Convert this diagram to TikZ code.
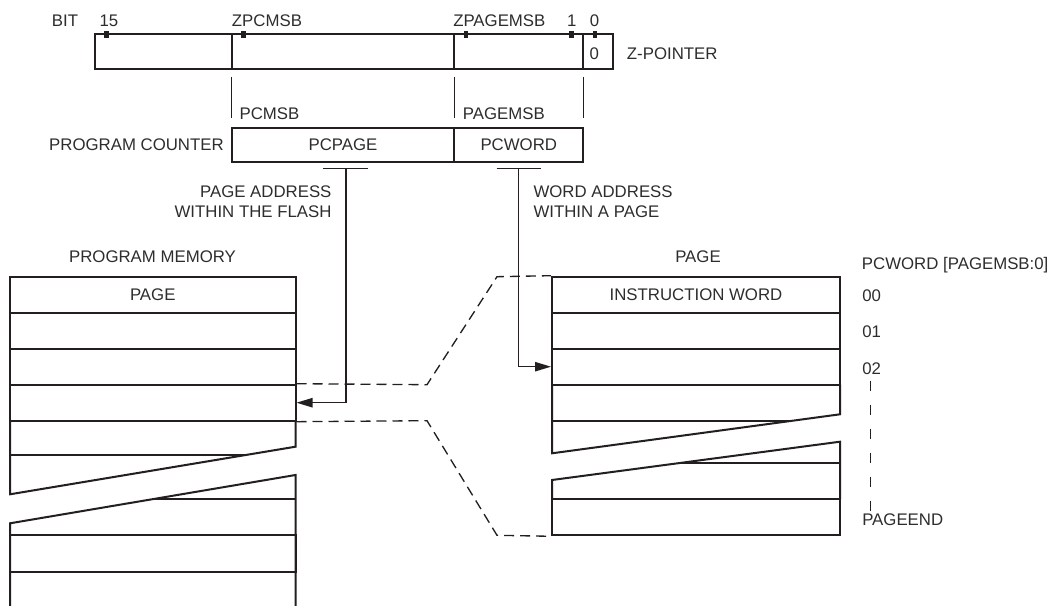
\documentclass[tikz,border=0pt]{standalone}
\usepackage{fontspec}
\setmainfont{Liberation Sans}
\usetikzlibrary{fit,arrows.meta}
\definecolor{ink}{RGB}{35,31,32}
\definecolor{txt}{RGB}{45,45,45}
\newcommand\diagfont{\fontsize{12.6}{14}\selectfont}
\begin{document}
\begin{tikzpicture}[x=0.75pt,y=-0.75pt,
  box/.style={draw=ink,line width=1.5pt,inner sep=0pt},
  lbl/.style={font=\diagfont,text=txt,inner sep=0pt,text height=9pt,text depth=0pt},
  wire/.style={draw=ink,line width=1pt},
  edge/.style={draw=ink,line width=1.5pt,line join=miter},
  dashwire/.style={draw=ink,line width=1pt,dash pattern=on 7.5pt off 4.5pt},
  vdash/.style={draw=ink,line width=1pt,dash pattern=on 8pt off 10pt},
  arr/.style={-{Triangle[length=12pt,width=7pt]}},
  tick/.style={fill=ink}]
\useasboundingbox (0,0) rectangle (1051,606);
\clip (0,0) rectangle (1051,606);

% ---------- Z-pointer ----------
\node[box,fit={(95,34.3) (231.7,69)}] (z1) {};
\node[box,fit={(231.7,34.3) (454.3,69)}] (z2) {};
\node[box,fit={(454.3,34.3) (583.3,69)}] (z3) {};
\node[box,fit={(583.3,34.3) (612.7,69)}] (z4) {};
\foreach \tx in {106.7,243.3,466,571.7,595}
  \fill[tick] (\tx-2.4,31.5) rectangle (\tx+2.4,38.5);

\node[lbl] (bit) at (65,20.7) {BIT};
\node[lbl] (b15) at (109,20.7) {15};
\node[lbl,anchor=west] (zpcmsb) at (231.7,20.7) {ZPCMSB};
\node[lbl,anchor=west] (zpagemsb) at (453,20.7) {ZPAGEMSB};
\node[lbl] (b1) at (571.7,20.7) {1};
\node[lbl] (b0) at (594.5,20.7) {0};
\node[lbl] (zero) at (594.3,53.3) {0};
\node[lbl,anchor=west] (zptr) at (626.7,53.3) {Z-POINTER};

% mapping lines
\coordinate (m1a) at (231.7,77); \coordinate (m1b) at (231.7,118);
\coordinate (m2a) at (454.3,77); \coordinate (m2b) at (454.3,118);
\coordinate (m3a) at (583.3,77); \coordinate (m3b) at (583.3,118);
\draw[wire] (m1a) -- (m1b);
\draw[wire] (m2a) -- (m2b);
\draw[wire] (m3a) -- (m3b);
\node[lbl,anchor=west] (pcmsb) at (239.3,113.3) {PCMSB};
\node[lbl,anchor=west] (pagemsb) at (462.7,113.3) {PAGEMSB};

% ---------- Program counter ----------
\node[box,fit={(231.7,127.7) (454.3,162.3)},label={[lbl]center:PCPAGE}] (pcpage) {};
\node[box,fit={(454.3,127.7) (583.3,162.3)},label={[lbl]center:PCWORD}] (pcword) {};
\node[lbl,anchor=east] (pclbl) at (224,144.3) {PROGRAM COUNTER};

\coordinate (bar1l) at (323.3,168.3); \coordinate (bar1r) at (368.3,168.3);
\coordinate (bar1) at (346,168.3);
\coordinate (bar2l) at (496.7,168.3); \coordinate (bar2r) at (540.7,168.3);
\coordinate (bar2) at (518.7,168.3);
\draw[wire] (bar1l) -- (bar1r);
\draw[wire] (bar2l) -- (bar2r);

\node[lbl,anchor=east] (pa1) at (331.7,191.7) {PAGE ADDRESS};
\node[lbl,anchor=east] (pa2) at (331.7,212) {WITHIN THE FLASH};
\node[lbl,anchor=west] (wa1) at (533.3,191.7) {WORD ADDRESS};
\node[lbl,anchor=west] (wa2) at (533.3,212) {WITHIN A PAGE};

% ---------- Program memory ----------
\node[lbl] (pmlbl) at (152.5,256.7) {PROGRAM MEMORY};
\node[box,fit={(10,276.7) (295.5,312.7)},label={[lbl]center:PAGE}] (L1) {};
\node[box,fit={(10,312.7) (295.5,348.7)}] (L2) {};
\node[box,fit={(10,348.7) (295.5,384.7)}] (L3) {};
\node[box,fit={(10,384.7) (295.5,420.7)}] (L4) {};
\draw[edge] (10,420.7) -- (10,494.3) -- (295.5,446.7) -- (295.5,420.7);
\draw[edge] (10,455) -- (246,455);
\draw[edge] (295.5,610) -- (295.5,475) -- (10,523.3) -- (10,610);
\draw[edge] (152,499.3) -- (295.5,499.3);
\node[box,fit={(10,535.3) (295.5,571.5)}] (L5) {};

% ---------- Page ----------
\node[lbl] (pglbl) at (698,257) {PAGE};
\node[lbl,anchor=west] (pcwlbl) at (861.7,264) {PCWORD [PAGEMSB:0]};
\node[box,fit={(552,276.7) (840,312.7)},label={[lbl]center:INSTRUCTION WORD}] (R1) {};
\node[box,fit={(552,312.7) (840,348.7)}] (R2) {};
\node[box,fit={(552,348.7) (840,384.7)}] (R3) {};
\draw[edge] (552,384.7) -- (552,453.3) -- (840,414.3) -- (840,384.7);
\draw[edge] (552,420.5) -- (791,420.5);
\draw[edge] (552,499.3) -- (552,480) -- (840,441.7) -- (840,499.3);
\draw[edge] (678,463.3) -- (840,463.3);
\node[box,fit={(552,499.3) (840,535.3)}] (R4) {};

\node[lbl,anchor=west] (w00) at (862,296) {00};
\node[lbl,anchor=west] (w01) at (862,332) {01};
\node[lbl,anchor=west] (w02) at (862,368) {02};
\node[lbl,anchor=west] (wend) at (862,519) {PAGEEND};
\coordinate (vd1) at (870.7,380.7);
\coordinate (vd2) at (870.7,511.7);
\draw[vdash] (vd1) -- (vd2);

% ---------- Connectors ----------
\coordinate (dk1) at (427,384.7); \coordinate (dk2) at (497,276.7);
\coordinate (dk3) at (427,420.7); \coordinate (dk4) at (497,535.3);
\draw[dashwire] (L4.north east) -- (dk1) -- (dk2) -- (R1.north west);
\draw[dashwire] (L4.south east) -- (dk3) -- (dk4) -- (R4.south west);

\draw[wire,arr] (bar1) |- (L4.east);
\draw[wire,arr] (bar2) |- (R3.west);
\end{tikzpicture}
\end{document}
